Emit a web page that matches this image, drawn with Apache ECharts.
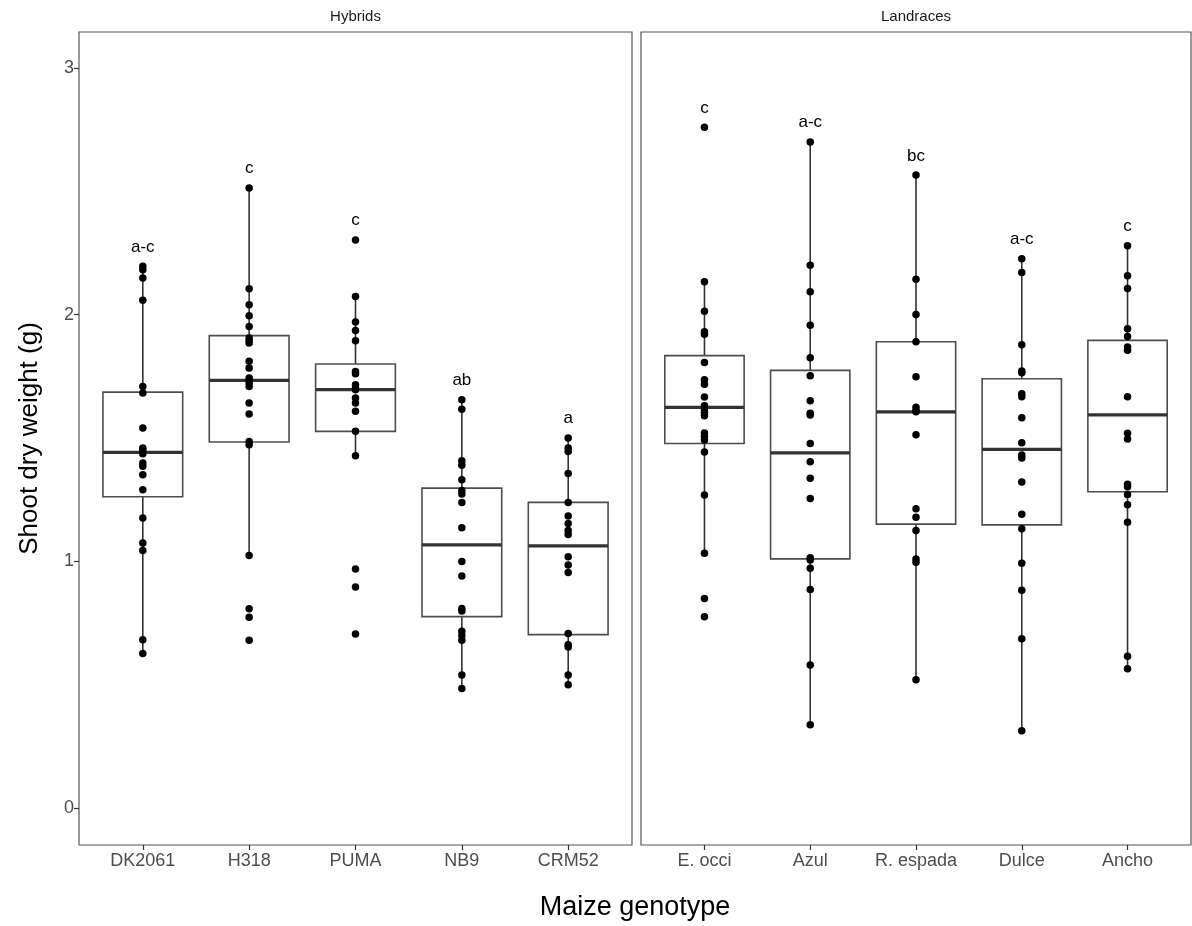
<!DOCTYPE html>
<html>
<head>
<meta charset="utf-8">
<script src="https://cdn.jsdelivr.net/npm/echarts@6/dist/echarts.min.js"></script>
<style>
  html, body { margin: 0; padding: 0; background: #fff; }
  #chart { width: 1192px; height: 926px; }
</style>
</head>
<body>
<div id="chart"></div>
<script>
// ---------- data ----------
const hybridCats = ['DK2061', 'H318', 'PUMA', 'NB9', 'CRM52'];
const landraceCats = ['E. occi', 'Azul', 'R. espada', 'Dulce', 'Ancho'];
const yTicks = [0, 1, 2, 3];

// individual observations (g)
const ptsDK2061 = [2.196, 2.182, 2.149, 2.058, 1.709, 1.682, 1.541, 1.459, 1.450, 1.436, 1.399, 1.385, 1.351, 1.290, 1.176, 1.074, 1.044, 0.682, 0.626];
const ptsH318 = [2.514, 2.105, 2.040, 1.996, 1.952, 1.905, 1.894, 1.885, 1.811, 1.784, 1.743, 1.734, 1.723, 1.709, 1.642, 1.597, 1.486, 1.473, 1.024, 0.808, 0.773, 0.680];
const ptsPUMA = [2.303, 2.074, 1.970, 1.936, 1.894, 1.770, 1.761, 1.716, 1.703, 1.696, 1.662, 1.642, 1.608, 1.527, 1.428, 0.969, 0.896, 0.705];
const ptsNB9 = [1.655, 1.617, 1.408, 1.390, 1.331, 1.287, 1.273, 1.239, 1.136, 0.999, 0.941, 0.809, 0.799, 0.717, 0.699, 0.680, 0.539, 0.484];
const ptsCRM52 = [1.500, 1.459, 1.445, 1.356, 1.239, 1.184, 1.153, 1.125, 1.109, 1.019, 0.985, 0.955, 0.707, 0.662, 0.653, 0.539, 0.500];
const ptsEocci = [2.760, 2.133, 2.014, 1.931, 1.921, 1.806, 1.736, 1.718, 1.666, 1.631, 1.618, 1.604, 1.590, 1.520, 1.506, 1.492, 1.443, 1.269, 1.033, 0.849, 0.775];
const ptsAzul = [2.700, 2.200, 2.093, 1.957, 1.825, 1.752, 1.651, 1.600, 1.593, 1.478, 1.404, 1.337, 1.255, 1.015, 1.005, 0.972, 0.886, 0.580, 0.338];
const ptsRespada = [2.566, 2.144, 2.001, 1.890, 1.748, 1.625, 1.612, 1.606, 1.513, 1.213, 1.179, 1.125, 1.009, 0.996, 0.520];
const ptsDulce = [2.227, 2.171, 1.878, 1.772, 1.765, 1.679, 1.667, 1.582, 1.481, 1.431, 1.419, 1.322, 1.191, 1.132, 0.992, 0.883, 0.686, 0.313];
const ptsAncho = [2.279, 2.158, 2.106, 1.943, 1.912, 1.869, 1.856, 1.667, 1.519, 1.496, 1.313, 1.302, 1.271, 1.229, 1.158, 0.615, 0.565];

// box statistics: [lower whisker, Q1, median, Q3, upper whisker]
const boxHybrids = [
  [0.626, 1.262, 1.442, 1.686, 2.196],
  [1.024, 1.484, 1.734, 1.915, 2.514],
  [1.428, 1.527, 1.696, 1.800, 2.074],
  [0.484, 0.776, 1.067, 1.297, 1.655],
  [0.500, 0.703, 1.063, 1.239, 1.500]
];
const boxLandraces = [
  [1.033, 1.478, 1.624, 1.834, 2.133],
  [0.338, 1.010, 1.440, 1.774, 2.700],
  [0.520, 1.151, 1.606, 1.890, 2.566],
  [0.313, 1.148, 1.454, 1.740, 2.227],
  [0.565, 1.282, 1.594, 1.896, 2.279]
];

// significance letters
const lettersHybrids = ['a-c', 'c', 'c', 'ab', 'a'];
const lettersLandraces = ['c', 'a-c', 'bc', 'a-c', 'c'];

const pointsHybrids = [ptsDK2061, ptsH318, ptsPUMA, ptsNB9, ptsCRM52];
const pointsLandraces = [ptsEocci, ptsAzul, ptsRespada, ptsDulce, ptsAncho];

// ---------- chart ----------
const FONT = "'Liberation Sans', Arial, Helvetica, sans-serif";
const LABEL_OFFSET = 0.078;
const BOX_W = 0.75;
const chart = echarts.init(document.getElementById('chart'), null, { renderer: 'canvas' });

function boxData(stats) {
  return stats.map((s, i) => [i + 1].concat(s));
}
function pointData(groups) {
  const out = [];
  groups.forEach((g, i) => g.forEach(v => out.push([i + 1, v])));
  return out;
}
function letterData(groups) {
  return groups.map((g, i) => [i + 1, Math.max.apply(null, g) + LABEL_OFFSET]);
}

function renderBox(params, api) {
  const x = api.value(0);
  const lo = api.coord([x, api.value(1)]);
  const q1 = api.coord([x, api.value(2)]);
  const md = api.coord([x, api.value(3)]);
  const q3 = api.coord([x, api.value(4)]);
  const hi = api.coord([x, api.value(5)]);
  const half = api.size([BOX_W, 0])[0] / 2;
  const stroke = '#333333';
  return {
    type: 'group',
    children: [
      { type: 'line', shape: { x1: lo[0], y1: lo[1], x2: q1[0], y2: q1[1] }, style: { stroke: stroke, lineWidth: 1.6 } },
      { type: 'line', shape: { x1: q3[0], y1: q3[1], x2: hi[0], y2: hi[1] }, style: { stroke: stroke, lineWidth: 1.6 } },
      { type: 'rect', shape: { x: q3[0] - half, y: q3[1], width: half * 2, height: q1[1] - q3[1] },
        style: { fill: '#ffffff', stroke: '#4d4d4d', lineWidth: 1.6 } },
      { type: 'line', shape: { x1: md[0] - half, y1: md[1], x2: md[0] + half, y2: md[1] }, style: { stroke: stroke, lineWidth: 3.2 } }
    ]
  };
}

const letterSets = {};
function makeLetterRenderer(letters) {
  return function (params, api) {
    const p = api.coord([api.value(0), api.value(1)]);
    return {
      type: 'text',
      x: p[0], y: p[1],
      style: {
        text: letters[params.dataIndex],
        fill: '#000', font: '17px ' + FONT, textAlign: 'center', textVerticalAlign: 'middle'
      }
    };
  };
}

const gridTop = 32, gridHeight = 813;
function xAxisFor(gridIndex, cats) {
  return {
    gridIndex: gridIndex, type: 'value', min: 0.4, max: 5.6, position: 'bottom',
    axisLine: { show: false, onZero: false },
    splitLine: { show: false },
    axisTick: { show: true, inside: false, customValues: [1, 2, 3, 4, 5], length: 5, lineStyle: { color: '#333', width: 1.2 } },
    axisLabel: {
      show: true, customValues: [1, 2, 3, 4, 5], margin: 7,
      formatter: v => cats[Math.round(v) - 1] || '',
      color: '#4d4d4d', fontSize: 18, fontFamily: FONT
    }
  };
}
function yAxisFor(gridIndex, showLabels) {
  return {
    gridIndex: gridIndex, type: 'value', min: -0.15, max: 3.146, position: 'left',
    axisLine: { show: false, onZero: false },
    splitLine: { show: false },
    axisTick: { show: showLabels, customValues: yTicks, length: 5, lineStyle: { color: '#333', width: 1.2 } },
    axisLabel: { show: showLabels, customValues: yTicks, margin: 5, color: '#4d4d4d', fontSize: 18, fontFamily: FONT },
    name: showLabels ? 'Shoot dry weight (g)' : '',
    nameLocation: 'middle', nameGap: 36,
    nameTextStyle: { color: '#000', fontSize: 26, fontFamily: FONT }
  };
}

const series = [];
[[boxHybrids, pointsHybrids, lettersHybrids], [boxLandraces, pointsLandraces, lettersLandraces]].forEach((panel, gi) => {
  series.push({
    type: 'custom', xAxisIndex: gi, yAxisIndex: gi, renderItem: renderBox,
    data: boxData(panel[0]), silent: true, z: 1
  });
  series.push({
    type: 'scatter', xAxisIndex: gi, yAxisIndex: gi, data: pointData(panel[1]),
    symbol: 'circle', symbolSize: 7.5, itemStyle: { color: '#000', opacity: 1 }, silent: true, z: 3
  });
  series.push({
    type: 'custom', xAxisIndex: gi, yAxisIndex: gi, renderItem: makeLetterRenderer(panel[2]),
    data: letterData(panel[1]), silent: true, z: 4
  });
});

const option = {
  backgroundColor: '#ffffff',
  animation: false,
  grid: [
    { left: 79, top: gridTop, width: 553, height: gridHeight, show: true, borderColor: '#555', borderWidth: 1.2, backgroundColor: 'transparent' },
    { left: 641, top: gridTop, width: 550, height: gridHeight, show: true, borderColor: '#555', borderWidth: 1.2, backgroundColor: 'transparent' }
  ],
  xAxis: [xAxisFor(0, hybridCats), xAxisFor(1, landraceCats)],
  yAxis: [yAxisFor(0, true), yAxisFor(1, false)],
  series: series,
  graphic: [
    { type: 'text', x: 355.5, y: 17, style: { text: 'Hybrids', fill: '#1a1a1a', font: '15px ' + FONT, textAlign: 'center', textVerticalAlign: 'middle' } },
    { type: 'text', x: 916, y: 17, style: { text: 'Landraces', fill: '#1a1a1a', font: '15px ' + FONT, textAlign: 'center', textVerticalAlign: 'middle' } },
    { type: 'text', x: 635, y: 908, style: { text: 'Maize genotype', fill: '#000', font: '27px ' + FONT, textAlign: 'center', textVerticalAlign: 'middle' } }
  ]
};
chart.setOption(option);
</script>
</body>
</html>
